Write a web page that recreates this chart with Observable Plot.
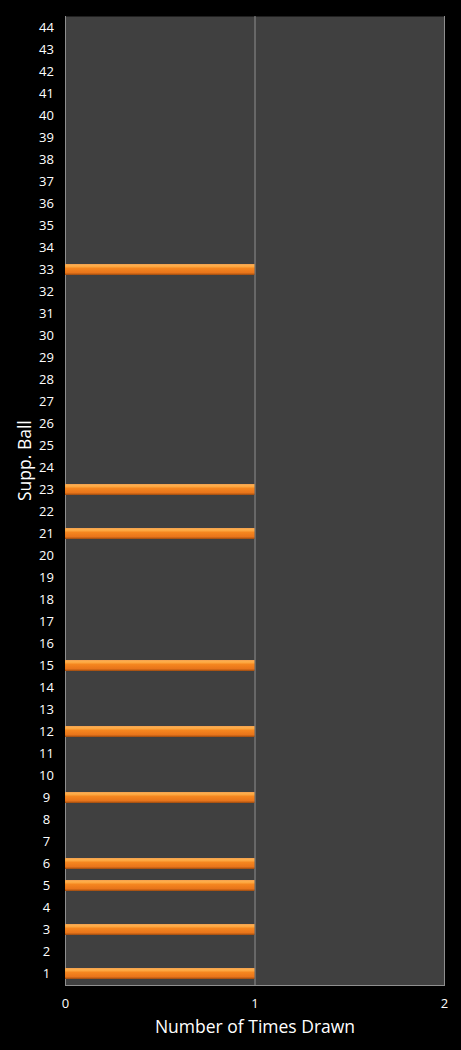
<!DOCTYPE html>
<html>
<head>
<meta charset="utf-8">
<script src="https://cdn.jsdelivr.net/npm/d3@7"></script>
<script src="https://cdn.jsdelivr.net/npm/@observablehq/plot@0.6"></script>
<style>
  html, body { margin: 0; padding: 0; background: #000; }
</style>
</head>
<body>
<div id="chart"></div>
<script>
const balls = [1, 3, 5, 6, 9, 12, 15, 21, 23, 33];
const timesDrawn = [1, 1, 1, 1, 1, 1, 1, 1, 1, 1];
const yLabels = d3.range(1, 45).map(String);
const xTicks = [0, 1, 2];

const data = balls.map((b, i) => ({ball: String(b), count: timesDrawn[i]}));

const chart = Plot.plot({
  width: 461,
  height: 1050,
  marginLeft: 65,
  marginRight: 17,
  marginTop: 16,
  marginBottom: 65,
  style: {background: "#000", color: "#fff", fontFamily: "'Open Sans', 'DejaVu Sans', sans-serif", fontSize: "13px"},
  x: {domain: [0, 2]},
  y: {domain: yLabels.slice().reverse(), paddingInner: 0.5, paddingOuter: 0.25},
  marks: [
    Plot.frame({fill: "#404040", stroke: null}),
    Plot.ruleX(xTicks, {stroke: "#8f8f8f", strokeWidth: 1}),
    Plot.frame({anchor: "bottom", stroke: "#8f8f8f"}),
    Plot.barX(data, {x: "count", y: "ball", fill: "url(#barGrad)"}),
    Plot.axisX({ticks: xTicks, tickFormat: d3.format("d"), tickSize: 0, tickPadding: 13, label: null, fill: "#fff"}),
    Plot.axisY({tickSize: 0, tickPadding: 19, textAnchor: "middle", label: null, fill: "#fff"}),
    Plot.text(["Number of Times Drawn"], {text: d => d, frameAnchor: "bottom", dy: 47, fontSize: 17.5, fill: "#fff"}),
    Plot.text(["Supp. Ball"], {text: d => d, frameAnchor: "left", rotate: -90, dx: -40, fontSize: 17.5, fill: "#fff"})
  ]
});

d3.select(chart).insert("defs", ":first-child").html(`
  <linearGradient id="barGrad" x1="0" y1="0" x2="0" y2="1">
    <stop offset="0%" stop-color="#f2a050"/>
    <stop offset="18%" stop-color="#ffb04a"/>
    <stop offset="40%" stop-color="#f5861f"/>
    <stop offset="80%" stop-color="#e8741a"/>
    <stop offset="100%" stop-color="#9a4a10"/>
  </linearGradient>`);

document.getElementById("chart").appendChild(chart);
</script>
</body>
</html>
